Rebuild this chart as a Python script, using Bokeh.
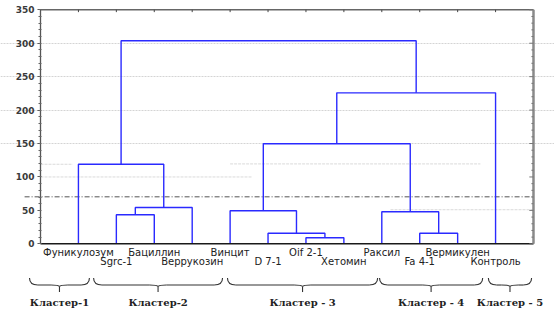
from bokeh.plotting import figure
from bokeh.models import (LinearAxis, FixedTicker, SingleIntervalTicker, Range1d, Grid,
                          ColumnDataSource)
from bokeh.core.properties import value
from bokeh.embed import file_html
from bokeh.resources import INLINE

# ---------------- data ----------------
leaves = ["Фуникулозум", "Sgrc-1", "Бациллин", "Веррукозин", "Винцит", "D 7-1",
          "Oif 2-1", "Хетомин", "Раксил", "Fa 4-1", "Вермикулен", "Контроль"]
# linkage: node ids 0..11 are leaves, merges create nodes 12, 13, ...
merge_left = [6, 1, 9, 5, 13, 8, 4, 0, 18, 20, 19]
merge_right = [7, 2, 10, 12, 3, 14, 15, 16, 17, 11, 21]
merge_height = [9.0, 43.4, 15.9, 15.9, 54.3, 47.9, 49.4, 119.0, 149.6, 225.8, 303.6]
threshold = 70.3

cluster_names = ["Кластер-1", "Кластер-2", "Кластер - 3", "Кластер - 4", "Кластер - 5"]
cluster_start = [-0.29, 1.40, 4.93, 8.94, 11.81]
cluster_end = [1.29, 4.80, 8.89, 11.66, 12.95]

y_ticks_major = 50
y_ticks_minor = 10
y_max = 350

# ---------------- figure ----------------
n = len(leaves)
x_end = n + 1
p = figure(width=554, height=313,
           x_range=Range1d(-1.055, 13.554), y_range=Range1d(-104.2, 363.9),
           x_axis_location=None, y_axis_location=None,
           toolbar_location=None, output_backend="svg", min_border=0)
p.outline_line_color = None
p.background_fill_color = "white"
p.border_fill_color = "white"
for g in p.grid:
    g.visible = False

# grid lines (light, dotted)
grid = Grid(dimension=1, ticker=FixedTicker(ticks=[150, 200, 250, 300]), bounds=(0, x_end),
            grid_line_color="#d4d4d4", grid_line_width=1, grid_line_dash="2 1")
p.add_layout(grid)
frag_x0 = [0, 9.23, 0, 5.0]
frag_x1 = [5.59, x_end, 0.85, 11.6]
frag_y = [100, 51, 119, 119.5]
p.segment(x0=frag_x0, y0=frag_y, x1=frag_x1, y1=frag_y, line_color="#dadada",
          line_width=1, line_dash="3 1")

# threshold dash-dot line
p.segment(x0=[-0.42], y0=[threshold], x1=[x_end], y1=[threshold],
          line_color="#555555", line_width=1, line_dash="5 2 1 2")

# ---------------- dendrogram ----------------
node_x = [i + 1 for i in range(n)]
node_h = [0.0] * n
xs, ys = [], []
for l, r, h in zip(merge_left, merge_right, merge_height):
    xs.append([node_x[l], node_x[l], node_x[r], node_x[r]])
    ys.append([node_h[l], h, h, node_h[r]])
    node_x.append((node_x[l] + node_x[r]) / 2)
    node_h.append(h)
p.multi_line(xs=xs, ys=ys, line_color="#2a2aff", line_width=1.4)

# ---------------- frame (top / right / bottom) ----------------
p.segment(x0=[0], y0=[y_max], x1=[x_end], y1=[y_max], line_color="#666666", line_width=1.5)
p.segment(x0=[0], y0=[0], x1=[x_end], y1=[0], line_color="#1a1a1a", line_width=1.5)
p.segment(x0=[x_end], y0=[0], x1=[x_end], y1=[y_max], line_color="#8a8a8a", line_width=2.5)
# top ticks at leaf positions (inward)
top_tx = [i + 1 for i in range(n)]
p.segment(x0=top_tx, y0=[y_max] * n, x1=top_tx, y1=[y_max - 3.5] * n,
          line_color="#444444", line_width=1)
# right ticks (inward)
r_ty = list(range(0, y_max + 1, y_ticks_minor))
r_len = [0.11 if v % y_ticks_major == 0 else 0.055 for v in r_ty]
p.segment(x0=[x_end] * len(r_ty), y0=r_ty, x1=[x_end - d for d in r_len], y1=r_ty,
          line_color="#777777", line_width=1)

# ---------------- left axis ----------------
left = LinearAxis(fixed_location=0, bounds=(0, y_max),
                  ticker=SingleIntervalTicker(interval=y_ticks_major, num_minor_ticks=5))
left.axis_line_color = "#555555"
left.axis_line_width = 1.3
left.major_tick_line_color = "#555555"
left.major_tick_out = 3
left.major_tick_in = 0
left.minor_tick_line_color = "#666666"
left.minor_tick_out = 2
left.minor_tick_in = 1
left.major_label_text_font = "DejaVu Sans"
left.major_label_text_font_style = "bold"
left.major_label_text_font_size = "9px"
left.major_label_text_color = "#3a3a3a"
left.major_label_standoff = 3
p.add_layout(left, "left")

# ---------------- leaf labels (staggered) ----------------
lab_src = ColumnDataSource(dict(
    x=[i + 1 for i in range(n)],
    y=[-12.3 if i % 2 == 0 else -25.7 for i in range(n)],
    t=leaves))
p.text(x="x", y="y", text="t", source=lab_src, text_align="center",
       text_baseline="middle", text_font=value("DejaVu Sans"),
       text_font_size="10px", text_color="#222222")

# ---------------- braces ----------------
ytop, ybar, yj, ytip = -51.2, -61.6, -63.9, -72.1
q = dict(x0=[], y0=[], x1=[], y1=[], cx=[], cy=[])
seg = dict(x0=[], y0=[], x1=[], y1=[])
mids = []
for a, b in zip(cluster_start, cluster_end):
    m = (a + b) / 2
    mids.append(m)
    r = min(0.22, (b - a) / 5)
    for (x0, y0, x1, y1, cx, cy) in [
        (a, ytop, a + r, ybar, a, ybar),
        (b - r, ybar, b, ytop, b, ybar),
        (m - r, ybar, m, yj, m - r * 0.1, ybar),
        (m + r, ybar, m, yj, m + r * 0.1, ybar),
    ]:
        q["x0"].append(x0); q["y0"].append(y0); q["x1"].append(x1)
        q["y1"].append(y1); q["cx"].append(cx); q["cy"].append(cy)
    for (x0, y0, x1, y1) in [(a + r, ybar, m - r, ybar), (m + r, ybar, b - r, ybar),
                             (m, yj, m, ytip)]:
        seg["x0"].append(x0); seg["y0"].append(y0); seg["x1"].append(x1); seg["y1"].append(y1)
p.quadratic(source=ColumnDataSource(q), x0="x0", y0="y0", x1="x1", y1="y1",
            cx="cx", cy="cy", line_color="#333333", line_width=1.1)
p.segment(source=ColumnDataSource(seg), x0="x0", y0="y0", x1="x1", y1="y1",
          line_color="#333333", line_width=1.1)

p.text(x=mids, y=[-87.8] * len(mids), text=cluster_names, text_align="center",
       text_baseline="middle", text_font=value("DejaVu Serif"), text_font_style="bold",
       text_font_size="10px", text_color="#222222")

open("out.html", "w").write(file_html(p, INLINE))
